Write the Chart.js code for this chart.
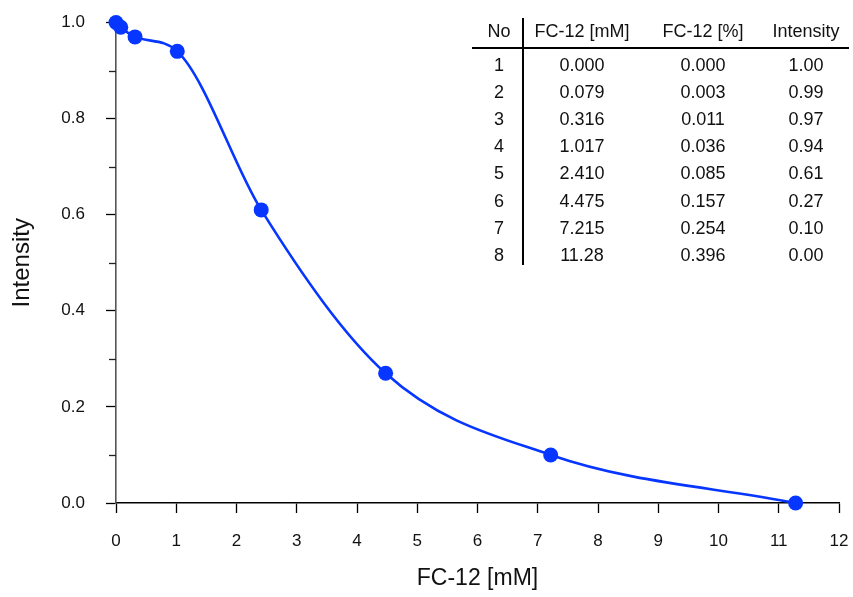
<!DOCTYPE html>
<html>
<head>
<meta charset="utf-8">
<script src="https://cdn.jsdelivr.net/npm/chart.js@4/dist/chart.umd.min.js"></script>
<style>
  body { margin: 0; background: #fff; }
  #wrap { position: relative; width: 853px; height: 597px; }
  #chart { position: absolute; left: 0; top: 0; }
  #tbl { position: absolute; left: 0; top: 0; font-family: Helvetica, "Liberation Sans", Arial, sans-serif; font-size: 18px; color: #111; }
  #tbl .cell { position: absolute; width: 120px; text-align: center; line-height: 20px; white-space: nowrap; }
  #tbl .hline { position: absolute; background: #000; }
</style>
</head>
<body>
<div id="wrap">
  <canvas id="chart" width="853" height="597"></canvas>
  <div id="tbl"></div>
</div>
<script>
// Data
const sampleNo = [1, 2, 3, 4, 5, 6, 7, 8];
const concMM = [0.000, 0.079, 0.316, 1.017, 2.410, 4.475, 7.215, 11.28];
const concPct = [0.000, 0.003, 0.011, 0.036, 0.085, 0.157, 0.254, 0.396];
const intensity = [1.00, 0.99, 0.97, 0.94, 0.61, 0.27, 0.10, 0.00];
const tableHeaders = ['No', 'FC-12 [mM]', 'FC-12 [%]', 'Intensity'];
const xTicks = [0, 1, 2, 3, 4, 5, 6, 7, 8, 9, 10, 11, 12];
const yTicks = [0.0, 0.2, 0.4, 0.6, 0.8, 1.0];
const yMinorTicks = [0.1, 0.3, 0.5, 0.7, 0.9];

const BLUE = '#0636ff';
const FONT = 'Helvetica, "Liberation Sans", Arial, sans-serif';

// minor y ticks, drawn through the y scale
const minorTicks = {
    id: 'minorTicks',
    afterDraw(chart) {
        const y = chart.scales.y;
        const ctx = chart.ctx;
        const x0 = chart.chartArea.left;
        ctx.save();
        ctx.strokeStyle = '#222';
        ctx.lineWidth = 1.3;
        yMinorTicks.forEach(v => {
            const py = Math.round(y.getPixelForValue(v)) + 0.5;
            ctx.beginPath();
            ctx.moveTo(x0 - 7, py);
            ctx.lineTo(x0, py);
            ctx.stroke();
        });
        ctx.restore();
    }
};

// keep the plot area where the reference has it
function noEdgePadding(s) {
    s.paddingLeft = 0;
    s.paddingRight = 0;
    s.paddingTop = 0;
    s.paddingBottom = 0;
}

const ctx = document.getElementById('chart').getContext('2d');
new Chart(ctx, {
    type: 'line',
    data: {
        datasets: [{
            label: 'Intensity',
            data: concMM.map((x, i) => ({ x: x, y: intensity[i] })),
            borderColor: BLUE,
            backgroundColor: BLUE,
            borderWidth: 2.6,
            cubicInterpolationMode: 'monotone',
            pointRadius: 7.5,
            pointBackgroundColor: BLUE,
            pointBorderWidth: 0,
            clip: false
        }]
    },
    options: {
        responsive: false,
        animation: false,
        layout: { padding: { left: 0, top: 22.5, right: 14, bottom: 0 } },
        plugins: {
            legend: { display: false },
            tooltip: { enabled: false }
        },
        scales: {
            x: {
                type: 'linear',
                min: 0,
                max: 12,
                afterBuildTicks: s => { s.ticks = xTicks.map(v => ({ value: v })); },
                afterFit: s => { s.height = 94; noEdgePadding(s); },
                border: { display: true, color: '#000', width: 1.5 },
                grid: { drawOnChartArea: false, drawTicks: true, tickLength: 10, tickColor: '#000', tickWidth: 1.3 },
                ticks: { color: '#111', font: { family: FONT, size: 17 }, padding: 18, maxRotation: 0, autoSkip: false },
                title: { display: true, text: 'FC-12 [mM]', color: '#111', font: { family: FONT, size: 23 }, padding: { bottom: 5 } }
            },
            y: {
                type: 'linear',
                min: 0,
                max: 1,
                afterBuildTicks: s => { s.ticks = yTicks.map(v => ({ value: v })); },
                afterFit: s => { s.width = 116; noEdgePadding(s); },
                border: { display: true, color: '#555', width: 1.6 },
                grid: { drawOnChartArea: false, drawTicks: true, tickLength: 10, tickColor: '#000', tickWidth: 1.3 },
                ticks: { color: '#111', font: { family: FONT, size: 17 }, padding: 21, callback: v => v.toFixed(1) },
                title: { display: true, text: 'Intensity', color: '#111', font: { family: FONT, size: 24 }, padding: { top: 8 } }
            }
        }
    },
    plugins: [minorTicks]
});

// Table overlay (real text)
const tbl = document.getElementById('tbl');
const colCenters = [499, 582, 703, 806];
const headerY = 31;
const rowY0 = 65;
const rowStep = 27.1;

function addCell(text, cx, cy) {
    const d = document.createElement('div');
    d.className = 'cell';
    d.textContent = text;
    d.style.left = (cx - 60) + 'px';
    d.style.top = (cy - 10) + 'px';
    tbl.appendChild(d);
}

tableHeaders.forEach((h, c) => addCell(h, colCenters[c], headerY));
sampleNo.forEach((n, i) => {
    const cy = rowY0 + i * rowStep;
    addCell(String(n), colCenters[0], cy);
    addCell(concMM[i] >= 10 ? concMM[i].toFixed(2) : concMM[i].toFixed(3), colCenters[1], cy);
    addCell(concPct[i].toFixed(3), colCenters[2], cy);
    addCell(intensity[i].toFixed(2), colCenters[3], cy);
});

const hl = document.createElement('div');
hl.className = 'hline';
Object.assign(hl.style, { left: '472px', top: '47px', width: '377px', height: '1.5px' });
tbl.appendChild(hl);
const vl = document.createElement('div');
vl.className = 'hline';
Object.assign(vl.style, { left: '522px', top: '18px', width: '1.5px', height: '247px' });
tbl.appendChild(vl);
</script>
</body>
</html>
